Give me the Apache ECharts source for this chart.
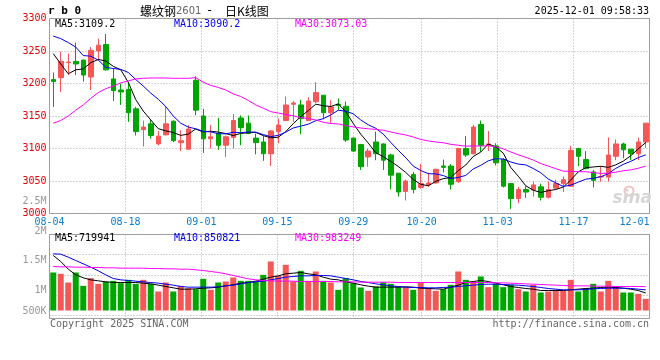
<!DOCTYPE html>
<html><head><meta charset="utf-8">
<script src="https://cdn.jsdelivr.net/npm/echarts@6/dist/echarts.min.js"></script>
<style>html,body{margin:0;padding:0;background:#fff}#c{width:660px;height:360px}</style>
</head><body><div id="c"></div>
<script>
const dates = ['08-04','08-05','08-06','08-07','08-08','08-11','08-12','08-13','08-14','08-15',
'08-18','08-19','08-20','08-21','08-22','08-25','08-26','08-27','08-28','08-29',
'09-01','09-02','09-03','09-04','09-05','09-08','09-09','09-10','09-11','09-12',
'09-15','09-16','09-17','09-18','09-19','09-22','09-23','09-24','09-25','09-26',
'09-29','09-30','10-09','10-10','10-13','10-14','10-15','10-16','10-17','10-20',
'10-21','10-22','10-23','10-24','10-27','10-28','10-29','10-30','10-31','11-03',
'11-04','11-05','11-06','11-07','11-10','11-11','11-12','11-13','11-14','11-17',
'11-18','11-19','11-20','11-21','11-24','11-25','11-26','11-27','11-28','12-01'];
const tickLabels = ['08-04','08-18','09-01','09-15','09-29','10-20','11-03','11-17','12-01'];
const priceTicks = [3000,3050,3100,3150,3200,3250,3300];
const volTickLabels = ['500K','1M','1.5M','2M','2.5M'];

const opens = [3206,3209,3232,3234,3236,3210,3250,3260,3207,3190,
3191,3161,3129,3138,3107,3121,3142,3109,3099,3205,
3150,3115,3123,3105,3117,3147,3139,3116,3110,3092,
3126,3143,3168,3167,3143,3172,3182,3155,3168,3165,
3116,3106,3087,3110,3107,3090,3062,3034,3060,3040,
3044,3047,3073,3073,3049,3100,3092,3137,3105,3104,
3083,3046,3023,3037,3036,3041,3025,3039,3046,3042,
3100,3083,3064,3056,3056,3088,3107,3099,3092,3110];
const closes = [3203,3234,3233,3230,3213,3251,3259,3221,3189,3187,
3155,3126,3133,3120,3119,3138,3112,3112,3130,3159,
3115,3118,3105,3118,3143,3132,3123,3109,3092,3127,
3136,3167,3170,3146,3173,3186,3155,3164,3166,3113,
3096,3072,3096,3092,3082,3059,3033,3050,3037,3046,
3047,3068,3071,3045,3100,3090,3133,3105,3107,3078,
3042,3023,3037,3033,3044,3025,3037,3046,3052,3097,
3088,3069,3051,3057,3090,3107,3098,3092,3110,3139];
const highs = [3217,3249,3246,3263,3237,3256,3269,3276,3223,3200,
3202,3164,3143,3145,3127,3165,3143,3128,3136,3211,
3161,3136,3147,3120,3153,3151,3151,3123,3119,3128,
3146,3180,3173,3175,3179,3202,3182,3174,3177,3172,
3117,3107,3100,3126,3108,3092,3062,3052,3064,3076,
3063,3069,3083,3076,3101,3119,3136,3143,3127,3108,
3085,3047,3041,3042,3049,3046,3049,3052,3057,3104,
3101,3096,3067,3073,3117,3114,3109,3099,3117,3139];
const lows = [3164,3187,3213,3213,3203,3190,3236,3220,3173,3167,
3141,3120,3103,3115,3105,3120,3110,3096,3098,3151,
3093,3100,3098,3087,3100,3105,3122,3091,3081,3073,
3108,3143,3141,3122,3143,3170,3145,3139,3159,3110,
3095,3067,3072,3082,3067,3037,3026,3020,3031,3038,
3041,3046,3063,3037,3047,3087,3091,3095,3096,3074,
3040,3007,3016,3024,3026,3020,3023,3038,3033,3041,
3073,3068,3040,3049,3049,3082,3085,3082,3082,3101];

const ma5 = [3246,3230,3215,3221,3222.4,3232.0,3237.0,3234.6,3226.4,3221.1,
3201.9,3175.2,3157.6,3144.0,3130.5,3127.2,3124.5,3120.2,3122.1,3130.0,
3125.4,3126.6,3125.3,3123.0,3119.9,3123.2,3124.2,3124.9,3119.8,3116.5,
3117.3,3126.0,3138.3,3149.1,3158.3,3168.2,3165.8,3164.6,3168.6,3156.6,
3138.6,3122.0,3108.4,3093.6,3087.5,3080.1,3072.4,3063.2,3052.2,3045.0,
3042.6,3049.4,3053.6,3055.3,3066.0,3074.6,3087.7,3094.5,3106.9,3102.5,
3092.9,3070.9,3057.4,3042.7,3035.8,3032.4,3035.1,3036.9,3040.7,3051.4,
3064.1,3070.5,3071.6,3072.6,3071.0,3074.8,3080.6,3088.8,3099.4,3109.2];
const ma10 = [3273,3269,3263,3256,3243,3242,3236,3225,3223,3221.8,
3217.0,3206.1,3196.1,3185.2,3175.8,3164.6,3149.9,3138.9,3133.0,3130.3,
3126.3,3125.6,3122.8,3122.5,3125.0,3124.3,3125.4,3125.1,3121.4,3118.2,
3120.3,3125.1,3131.6,3134.4,3137.4,3142.8,3145.9,3151.5,3158.9,3157.4,
3153.4,3143.9,3136.5,3131.1,3122.0,3109.4,3097.2,3085.8,3072.9,3066.2,
3061.3,3060.9,3058.4,3053.7,3055.5,3058.6,3068.6,3074.1,3081.1,3084.3,
3083.8,3079.3,3076.0,3074.8,3069.2,3062.7,3053.0,3047.1,3041.7,3043.6,
3048.2,3052.8,3054.2,3056.6,3061.2,3069.4,3075.6,3080.2,3086.0,3090.2];
const ma30 = [3139,3143,3150,3159,3167,3177,3186,3192,3196,3201,
3204,3207,3208,3208.5,3208.5,3208.5,3208,3208,3208,3209,
3202,3197,3194,3190,3184,3180,3174,3167,3162,3156.7,
3154.5,3152.3,3150.2,3147.4,3146.1,3143.9,3140.4,3138.5,3137.8,3135.3,
3133.3,3131.5,3130.3,3129.4,3128.1,3125.5,3122.9,3120.8,3117.7,3113.9,
3111.7,3110.0,3108.9,3106.4,3105.0,3103.6,3103.9,3103.8,3104.3,3102.6,
3099.5,3094.7,3090.3,3086.5,3082.2,3076.9,3072.9,3069.0,3065.2,3064.7,
3064.4,3064.3,3062.9,3061.7,3062.0,3063.6,3065.7,3067.1,3069.6,3073.0];

const vols = [1568000,1513000,1155000,1568000,1018000,1334000,1100000,1196000,1224000,1128000,
1265000,1100000,1265000,1100000,784000,1155000,784000,1018000,921000,880000,
1306000,853000,1155000,1196000,1361000,1224000,1224000,1196000,1471000,2021000,
1430000,1884000,1196000,1636000,1224000,1609000,1224000,1155000,853000,1334000,
1128000,949000,811000,990000,1169000,1100000,990000,963000,853000,1155000,
894000,811000,880000,1059000,1609000,1265000,1196000,1403000,963000,1100000,
963000,1059000,880000,784000,1059000,743000,784000,853000,811000,1265000,
784000,894000,1100000,784000,1224000,990000,743000,743000,688000,481000];
const volMa5 = [2269000,2021000,1705000,1471000,1348000,1265000,1224000,1183000,1155000,1155000,
1155000,1155000,1128000,1100000,1045000,990000,935000,880000,880000,894000,
921000,935000,963000,1018000,1059000,1128000,1155000,1210000,1293000,1375000,
1430000,1513000,1540000,1568000,1513000,1471000,1375000,1293000,1265000,1183000,
1128000,1059000,1004000,963000,963000,963000,963000,976000,963000,921000,
908000,894000,880000,963000,1045000,1155000,1196000,1238000,1196000,1128000,
1059000,990000,949000,908000,880000,825000,825000,825000,825000,853000,
880000,908000,921000,949000,963000,949000,921000,880000,825000,720000];
const volMa10 = [2338000,2324000,2200000,2063000,1925000,1788000,1636000,1471000,1320000,1265000,
1238000,1210000,1183000,1155000,1128000,1086000,1045000,990000,963000,963000,
963000,963000,976000,1018000,1045000,1100000,1155000,1183000,1210000,1265000,
1320000,1375000,1403000,1430000,1430000,1444000,1444000,1430000,1375000,1320000,
1265000,1196000,1155000,1100000,1059000,1018000,990000,963000,949000,949000,
935000,935000,949000,963000,990000,1018000,1045000,1073000,1086000,1086000,
1073000,1059000,1045000,1018000,990000,949000,908000,880000,853000,853000,
853000,866000,894000,908000,921000,921000,921000,908000,880000,851000];
const volMa30 = [1815000,1801000,1801000,1788000,1788000,1774000,1774000,1760000,1760000,1746000,
1746000,1746000,1746000,1733000,1733000,1719000,1719000,1705000,1705000,1678000,
1650000,1609000,1568000,1513000,1444000,1375000,1306000,1265000,1238000,1224000,
1210000,1210000,1210000,1196000,1196000,1196000,1196000,1196000,1183000,1183000,
1183000,1169000,1169000,1169000,1169000,1169000,1155000,1155000,1155000,1155000,
1155000,1155000,1155000,1155000,1155000,1155000,1155000,1155000,1155000,1141000,
1141000,1128000,1114000,1100000,1086000,1073000,1059000,1045000,1031000,1018000,
1018000,1018000,1004000,1004000,1004000,990000,990000,990000,990000,983000];

const MONO = '"DejaVu Sans Mono", "Liberation Mono", monospace';
const UP = '#f55757', DOWN = '#00a600';
const GRIDC = '#a8a8a8', BORDER = '#999';
const labelIdx = tickLabels.map(d => dates.indexOf(d));
const volLabelVals = [643000, 1000000, 1500000, 2000000, 2500000];

const candleData = dates.map((d, i) => [opens[i], closes[i], lows[i], highs[i]]);
const volData = vols.map((v, i) => ({ value: v, itemStyle: { color: closes[i] >= opens[i] ? UP : DOWN } }));

const dotted = { show: true, lineStyle: { color: GRIDC, type: [1, 2], width: 1 } };

function txt(x, y, text, fill, font, align) {
  return { type: 'text', silent: true, z: 100, style: { x: x, y: y, text: text, fill: fill, font: font, align: align || 'left', verticalAlign: 'middle' } };
}

const chart = echarts.init(document.getElementById('c'), null, { renderer: 'canvas' });
chart.setOption({
  animation: false,
  backgroundColor: '#fff',
  grid: [
    { left: 49.5, top: 18.5, width: 600, height: 195, show: true, borderColor: BORDER, borderWidth: 1, backgroundColor: 'transparent', outerBoundsMode: 'none' },
    { left: 49.5, top: 234.5, width: 600, height: 76, show: false, outerBoundsMode: 'none' },
    { left: 49.5, top: 234.5, width: 600, height: 84, show: true, borderColor: BORDER, borderWidth: 1, backgroundColor: 'transparent', outerBoundsMode: 'none' },
    { left: 49.5, top: 201.5, width: 600, height: 109.5, show: false, outerBoundsMode: 'none' }
  ],
  xAxis: [
    { type: 'category', gridIndex: 0, data: dates, boundaryGap: true, axisLine: { show: false }, axisTick: { show: false }, axisLabel: { show: false }, splitLine: { show: false } },
    { type: 'value', gridIndex: 0, min: 0, max: dates.length - 1, position: 'bottom',
      axisLine: { show: false }, axisTick: { show: false, customValues: labelIdx },
      axisLabel: { customValues: labelIdx, formatter: v => dates[Math.round(v)], color: '#0a80d2', fontFamily: MONO, fontSize: 10, margin: 4, alignMaxLabel: 'right' },
      splitLine: dotted },
    { type: 'category', gridIndex: 1, data: dates, boundaryGap: true, show: false },
    { type: 'value', gridIndex: 2, min: 0, max: dates.length - 1, axisLine: { show: false }, axisTick: { show: false, customValues: labelIdx }, axisLabel: { show: false, customValues: labelIdx }, splitLine: dotted },
    { type: 'value', gridIndex: 3, show: false }
  ],
  yAxis: [
    { type: 'value', gridIndex: 0, min: priceTicks[0], max: priceTicks[priceTicks.length - 1], interval: 50,
      axisLine: { show: false }, axisTick: { show: false },
      axisLabel: { formatter: v => String(v), color: '#e40000', fontFamily: MONO, fontSize: 10, margin: 3, padding: [0, 0, 5, 0] },
      splitLine: dotted },
    { type: 'value', gridIndex: 1, min: 0, max: 3135000, show: false, splitLine: { show: false } },
    { type: 'value', gridIndex: 2, min: 0, max: 4.15, interval: 1, inverse: true, axisLine: { show: false }, axisTick: { show: false }, axisLabel: { show: false }, splitLine: dotted },
    { type: 'value', gridIndex: 3, min: volLabelVals[0], max: volLabelVals[volLabelVals.length - 1],
      axisLine: { show: false }, axisTick: { show: false, customValues: volLabelVals }, splitLine: { show: false },
      axisLabel: { customValues: volLabelVals, formatter: v => volTickLabels[volLabelVals.indexOf(v)], color: '#999', fontFamily: MONO, fontSize: 10, margin: 3 } }
  ],
  series: [
    { type: 'candlestick', xAxisIndex: 0, yAxisIndex: 0, data: candleData, barWidth: 5, silent: true,
      itemStyle: { color: UP, color0: DOWN, borderColor: UP, borderColor0: DOWN, borderWidth: 1 } },
    { type: 'line', xAxisIndex: 0, yAxisIndex: 0, data: ma5, symbol: 'none', silent: true, z: 5, lineStyle: { color: '#000', width: 1 } },
    { type: 'line', xAxisIndex: 0, yAxisIndex: 0, data: ma10, symbol: 'none', silent: true, z: 5, lineStyle: { color: '#0000ee', width: 1 } },
    { type: 'line', xAxisIndex: 0, yAxisIndex: 0, data: ma30, symbol: 'none', silent: true, z: 5, lineStyle: { color: '#ff00ff', width: 1 } },
    { type: 'bar', xAxisIndex: 2, yAxisIndex: 1, data: volData, barWidth: 6, silent: true },
    { type: 'line', xAxisIndex: 2, yAxisIndex: 1, data: volMa5, symbol: 'none', silent: true, z: 5, lineStyle: { color: '#000', width: 1 } },
    { type: 'line', xAxisIndex: 2, yAxisIndex: 1, data: volMa10, symbol: 'none', silent: true, z: 5, lineStyle: { color: '#0000ee', width: 1 } },
    { type: 'line', xAxisIndex: 2, yAxisIndex: 1, data: volMa30, symbol: 'none', silent: true, z: 5, lineStyle: { color: '#ff00ff', width: 1 } }
  ],
  graphic: [
    txt(48, 11.5, 'r b 0', '#000', 'bold 11px ' + MONO),
    txt(140, 11, '螺纹钢', '#000', '12px "Noto Sans CJK SC"'),
    txt(176, 11.5, '2601', '#666', '10px "DejaVu Sans"'),
    txt(206, 11, '-', '#000', '12px ' + MONO),
    txt(225, 11, '日K线图', '#000', '12px "Noto Sans CJK SC"'),
    txt(649, 11.5, '2025-12-01 09:58:33', '#000', '10px ' + MONO, 'right'),
    txt(55, 24, 'MA5:3109.2', '#000', '10px ' + MONO),
    txt(174, 24, 'MA10:3090.2', '#0000ee', '10px ' + MONO),
    txt(295, 24, 'MA30:3073.03', '#ff00ff', '10px ' + MONO),
    txt(55, 238, 'MA5:719941', '#000', '10px ' + MONO),
    txt(174, 238, 'MA10:850821', '#0000ee', '10px ' + MONO),
    txt(295, 238, 'MA30:983249', '#ff00ff', '10px ' + MONO),
    txt(50, 324, 'Copyright 2025 SINA.COM', '#666', '10px ' + MONO),
    txt(649, 324, 'http://finance.sina.com.cn', '#666', '10px ' + MONO, 'right'),
    { type: 'circle', silent: true, z: 1, shape: { cx: 629, cy: 191, r: 4.5 }, style: { fill: 'none', stroke: '#eec4c4', lineWidth: 2 } },
    txt(652, 199, 'sina', '#d6d6d6', 'italic bold 17px "DejaVu Sans"', 'right')
  ]
});
</script>
</body></html>
